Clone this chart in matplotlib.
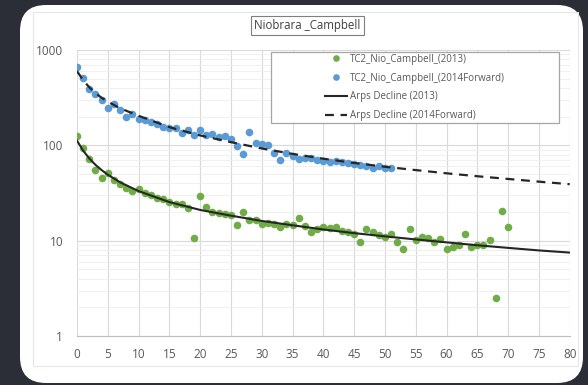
import matplotlib
matplotlib.use('Agg')
import matplotlib.pyplot as plt
from matplotlib.patches import FancyBboxPatch, Rectangle
from matplotlib.lines import Line2D
from matplotlib.ticker import LogLocator, NullFormatter, NullLocator

# ---------------- data ----------------
months_2013 = list(range(71))
prod_2013 = [126, 93, 72, 55, 45, 51, 43, 39, 35.5, 33, 35, 31.4, 30.2, 28.3, 27.2,
             25.6, 24.3, 24.1, 22.2, 10.7, 29.4, 22.7, 19.9, 19.5, 18.9, 18.6, 14.6,
             19.9, 16.5, 16.4, 15.0, 15.2, 15.0, 14.0, 15.0, 14.6, 17.4, 14.3, 12.2,
             13.2, 14.0, 13.7, 14.0, 12.6, 12.2, 11.7, 9.8, 13.3, 12.4, 11.5, 11.0,
             11.7, 9.8, 8.2, 13.2, 10.2, 10.8, 10.6, 9.8, 10.3, 8.1, 8.5, 9.0, 11.7,
             8.65, 8.9, 9.0, 10.2, 2.5, 20.6, 13.8]

months_2014 = list(range(52))
prod_2014 = [670, 506, 388, 346, 299, 245, 272, 235, 200, 213, 189, 183, 175, 166,
             156, 153, 153, 135, 145, 128, 145, 128, 132, 123, 124, 117, 99, 82, 139,
             105, 103, 101, 83, 70, 84, 77, 72, 73, 74, 70, 69, 67, 69, 67, 66, 63,
             62, 60, 58, 60, 57.5, 57.5]

arps_t = [0, 1, 2, 3, 4, 5, 7, 10, 15, 20, 25, 30, 35, 40, 45, 50, 55, 60, 65, 70, 75, 80]
arps_2013 = [112, 88, 72.8, 62.4, 55, 49.2, 40.9, 33.1, 25.4, 21.0, 18.3, 16.1, 14.5,
             13.1, 12.0, 11.1, 10.3, 9.6, 8.95, 8.4, 7.9, 7.5]
arps_2014 = [600, 482, 406, 353, 315, 287, 245, 204, 155, 127, 108, 92.7, 81.3, 72.4,
             65.3, 59.6, 55.0, 50.9, 47.4, 44.4, 41.6, 39.1]

x_ticks = list(range(0, 81, 5))
y_ticks = [1, 10, 100, 1000]
y_tick_labels = ['1', '10', '100', '1000']

title = 'Niobrara _Campbell'
labels = ['TC2_Nio_Campbell_(2013)', 'TC2_Nio_Campbell_(2014Forward)',
          'Arps Decline (2013)', 'Arps Decline (2014Forward)']

GREEN = '#70ad47'
BLUE = '#5b9bd5'
DARK = '#262626'
TXT = '#595959'

plt.rcParams['font.family'] = ['Open Sans', 'DejaVu Sans']

W, H = 5.88, 3.85
fig = plt.figure(figsize=(W, H), dpi=100)
fig.patch.set_facecolor('#2b2e36')

card = FancyBboxPatch((0.20, 0.02), 5.63, 3.78,
                      boxstyle='round,pad=0,rounding_size=0.26',
                      transform=fig.dpi_scale_trans, facecolor='white',
                      edgecolor='none', zorder=-10)
fig.patches.append(card)
inner = Rectangle((0.33, 0.19), 5.45, 3.54, transform=fig.dpi_scale_trans,
                  fill=False, edgecolor='#e6e6e6', lw=0.8, zorder=-9)
fig.patches.append(inner)

ax = fig.add_axes([77 / 588, 1 - 336 / 385, 492.7 / 588, 286 / 385])
ax.patch.set_alpha(0)

ax.scatter(months_2013, prod_2013, s=30, color=GREEN, linewidths=0, zorder=3)
ax.scatter(months_2014, prod_2014, s=30, color=BLUE, linewidths=0, zorder=3)
ax.plot(arps_t, arps_2013, color=DARK, lw=1.5, zorder=4)
ax.plot(arps_t, arps_2014, color=DARK, lw=1.6, ls=(0, (4, 3)), zorder=4)

ax.set_yscale('log')
ax.set_ylim(1, 1000)
ax.set_xlim(0, 80)
ax.set_xticks(x_ticks)
ax.set_yticks(y_ticks, y_tick_labels)
ax.yaxis.set_minor_locator(LogLocator(base=10, subs=range(2, 10)))
ax.yaxis.set_minor_formatter(NullFormatter())
ax.xaxis.set_minor_locator(NullLocator())
ax.grid(which='major', color='#d9d9d9', lw=0.8, zorder=0)
ax.grid(which='minor', axis='y', color='#eeeeee', lw=0.6, zorder=0)
ax.set_axisbelow(True)

ax.tick_params(axis='both', which='both', length=0, labelsize=8.5, labelcolor=TXT)
ax.tick_params(axis='x', pad=8.5)
ax.tick_params(axis='y', pad=10)
for s in ['top', 'right', 'left']:
    ax.spines[s].set_visible(False)
ax.spines['bottom'].set_color('#bfbfbf')
ax.spines['bottom'].set_linewidth(0.8)

# legend
frame = Rectangle((0.394, 0.745), 0.584, 0.248, transform=ax.transAxes,
                  facecolor='white', edgecolor='#a6a6a6', lw=0.9, zorder=5,
                  clip_on=False)
ax.add_patch(frame)
handles = [
    Line2D([], [], ls='none', marker='o', ms=4.8, color=GREEN, mec='none'),
    Line2D([], [], ls='none', marker='o', ms=4.8, color=BLUE, mec='none'),
    Line2D([], [], color=DARK, lw=1.5),
    Line2D([], [], color=DARK, lw=1.6, ls=(0, (4, 3))),
]
leg = ax.legend(handles, labels, loc='center', bbox_to_anchor=(0.686, 0.869),
                frameon=False, fontsize=7, labelcolor=TXT, handlelength=2.3,
                handletextpad=0.3, labelspacing=0.8, borderaxespad=0,
                borderpad=0)
leg.set_zorder(6)

fig.text(307.5 / 588, 1 - 25.5 / 385, title, ha='center', va='center',
         fontsize=8.3, color='#404040',
         bbox=dict(boxstyle='square,pad=0.25', fc='white', ec='#7f7f7f', lw=0.8))

fig.savefig('out.png', dpi=100, facecolor=fig.get_facecolor())
